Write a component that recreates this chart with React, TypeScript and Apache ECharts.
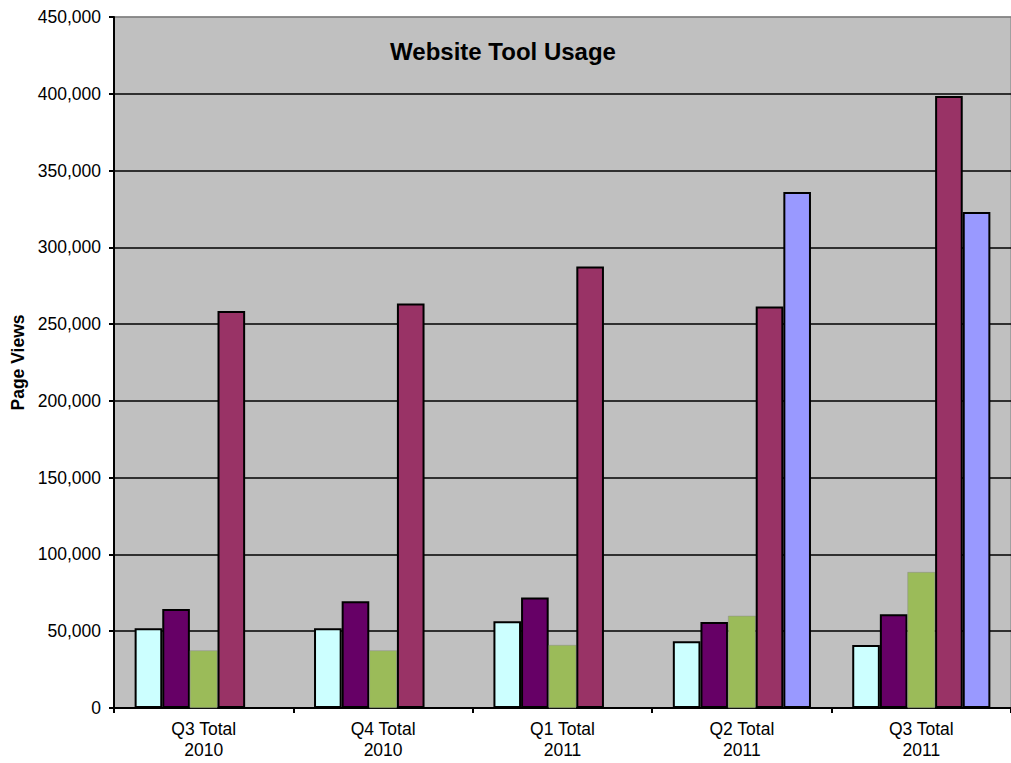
import React, { useEffect, useRef } from "react";
import * as echarts from "echarts";

const categories = ["Q3 Total\n2010", "Q4 Total\n2010", "Q1 Total\n2011", "Q2 Total\n2011", "Q3 Total\n2011"];
const toolA = [52000, 52000, 56500, 43500, 41000];
const toolB = [64500, 69500, 72000, 56000, 61000];
const toolC = [37500, 37500, 41000, 60000, 88500];
const toolD = [258500, 263500, 287500, 261500, 398500];
const toolE = [null, null, null, 336000, 323000];

const FONT = "'Liberation Sans', Arial, sans-serif";

export default function App() {
  const ref = useRef<HTMLDivElement>(null);
  useEffect(() => {
    const chart = echarts.init(ref.current!, null, { renderer: "svg" });
    const border = { borderColor: "#000", borderWidth: 2 };
    const splitColors = ["#000", "#000", "#000", "#000", "#000", "#000", "#000", "#000", "#000", "#808080"];
    chart.setOption({
      animation: false,
      textStyle: { fontFamily: FONT },
      title: {
        text: "Website Tool Usage",
        left: 498,
        textAlign: "center",
        top: 34,
        textStyle: { fontFamily: FONT, fontSize: 24, fontWeight: "bold", color: "#000" },
      },
      grid: {
        left: 114,
        top: 17,
        bottom: 55,
        right: -9,
        show: true,
        backgroundColor: "#C0C0C0",
        borderColor: "#808080",
        borderWidth: 1,
        containLabel: false,
      },
      xAxis: {
        type: "category",
        data: categories,
        axisLine: { lineStyle: { color: "#000", width: 2 } },
        axisTick: { show: true, length: 5, lineStyle: { color: "#000", width: 2 } },
        axisLabel: { color: "#000", fontSize: 17.5, lineHeight: 21, margin: 10, fontFamily: FONT },
      },
      yAxis: {
        type: "value",
        min: 0,
        max: 450000,
        interval: 50000,
        name: "Page Views",
        nameLocation: "middle",
        nameRotate: 90,
        nameGap: 86,
        nameTextStyle: { fontFamily: FONT, fontSize: 17.5, fontWeight: "bold", color: "#000" },
        axisLine: { show: true, lineStyle: { color: "#000", width: 2 } },
        axisTick: { show: true, length: 5, lineStyle: { color: "#000", width: 2 } },
        axisLabel: {
          color: "#000",
          fontSize: 17.5,
          margin: 13,
          fontFamily: FONT,
          formatter: (v: number) => v.toLocaleString("en-US"),
        },
        splitLine: { show: true, lineStyle: { color: splitColors, width: 1.5 } },
      },
      series: [
        { name: "Tool A", type: "bar", data: toolA, barGap: "0%", barCategoryGap: "23%", itemStyle: { color: "#CCFFFF", ...border } },
        { name: "Tool B", type: "bar", data: toolB, itemStyle: { color: "#660066", ...border } },
        { name: "Tool C", type: "bar", data: toolC, itemStyle: { color: "#9BBB59", borderColor: "#8a8a8a", borderWidth: 0.5 } },
        { name: "Tool D", type: "bar", data: toolD, itemStyle: { color: "#993366", ...border } },
        { name: "Tool E", type: "bar", data: toolE, itemStyle: { color: "#9999FF", ...border } },
      ],
    });
    return () => chart.dispose();
  }, []);
  return <div ref={ref} style={{ position: "fixed", left: 0, top: 0, width: 1011, height: 763, background: "#fff" }} />;
}
